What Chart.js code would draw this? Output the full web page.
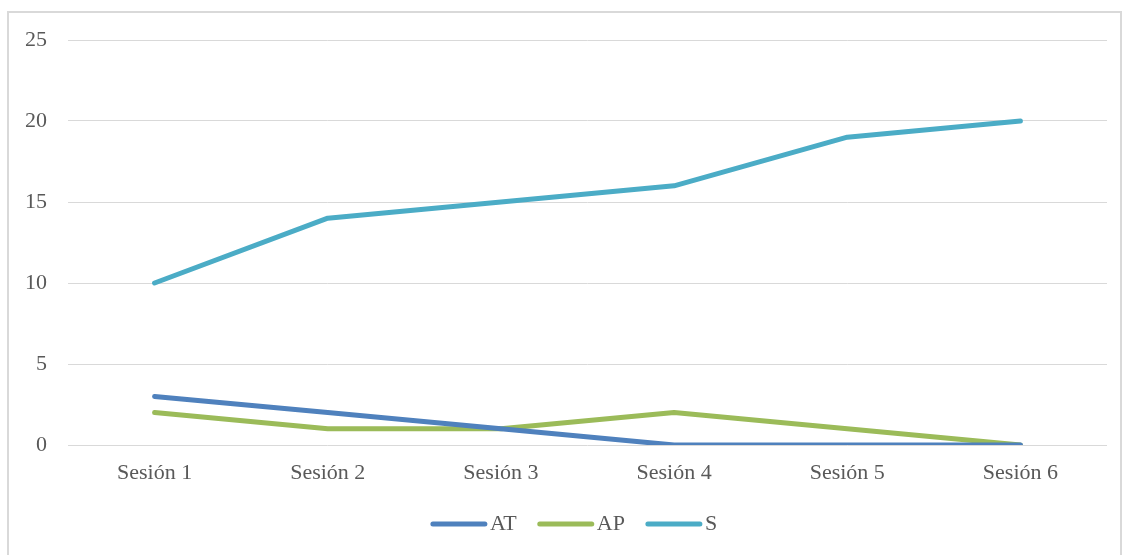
<!DOCTYPE html>
<html>
<head>
<meta charset="utf-8">
<script src="https://cdn.jsdelivr.net/npm/chart.js@4/dist/chart.umd.min.js"></script>
<style>
  html, body { margin: 0; padding: 0; background: #fff; }
  #wrap { position: relative; width: 1127px; height: 555px; overflow: hidden; }
  #frame { position: absolute; left: 7px; top: 11px; width: 1111px; height: 600px; border: 2px solid #d9d9d9; pointer-events: none; }
  canvas { position: absolute; left: 0; top: 0; }
</style>
</head>
<body>
<div id="wrap">
  <canvas id="chart" width="1127" height="555"></canvas>
  <div id="frame"></div>
</div>
<script>
// datos de las sesiones
const categories = ['Sesión 1', 'Sesión 2', 'Sesión 3', 'Sesión 4', 'Sesión 5', 'Sesión 6'];
const atValues = [3, 2, 1, 0, 0, 0];
const apValues = [2, 1, 1, 2, 1, 0];
const sValues = [10, 14, 15, 16, 19, 20];
const yTicks = [0, 5, 10, 15, 20, 25];

const textColor = '#595959';
const fontFamily = '"Liberation Serif", "Times New Roman", serif';

function serie(label, data, color) {
    return {
        label: label,
        data: data,
        borderColor: color,
        backgroundColor: color,
        borderWidth: 5,
        borderCapStyle: 'round',
        borderJoinStyle: 'round',
        pointRadius: 0,
        pointHoverRadius: 0,
        tension: 0,
        fill: false
    };
}

// leyenda dibujada a mano (linea pegada al texto, como en Excel)
const leyendaPlugin = {
    id: 'leyenda',
    afterDraw(chart) {
        const ctx = chart.ctx;
        const lineLen = 56, gapText = 3, gapItem = 21, y = 524;
        ctx.save();
        ctx.font = '22px ' + fontFamily;
        const items = chart.data.datasets.map(ds => ({
            text: ds.label, color: ds.borderColor, w: ctx.measureText(ds.label).width
        }));
        let total = 0;
        items.forEach((it, i) => { total += lineLen + gapText + it.w + (i < items.length - 1 ? gapItem : 0); });
        let x = 574 - total / 2;
        items.forEach(it => {
            ctx.strokeStyle = it.color;
            ctx.lineWidth = 5;
            ctx.lineCap = 'round';
            ctx.beginPath();
            ctx.moveTo(x + 2, y);
            ctx.lineTo(x + lineLen - 2, y);
            ctx.stroke();
            ctx.fillStyle = textColor;
            ctx.textBaseline = 'middle';
            ctx.textAlign = 'left';
            ctx.fillText(it.text, x + lineLen + gapText, y);
            x += lineLen + gapText + it.w + gapItem;
        });
        ctx.restore();
    }
};

new Chart(document.getElementById('chart'), {
    type: 'line',
    data: {
        labels: categories,
        datasets: [
            serie('AT', atValues, '#4f81bd'),
            serie('AP', apValues, '#9bbb59'),
            serie('S', sValues, '#4bacc6')
        ]
    },
    options: {
        responsive: false,
        animation: false,
        layout: { padding: { left: 0, right: 20, top: 40, bottom: 58 } },
        scales: {
            x: {
                offset: true,
                grid: { display: false },
                border: { display: false },
                ticks: {
                    color: textColor,
                    padding: 7,
                    maxRotation: 0,
                    font: { family: fontFamily, size: 22 }
                },
                afterFit: (scale) => { scale.height = 52; }
            },
            y: {
                min: 0,
                max: 25,
                afterBuildTicks: (scale) => { scale.ticks = yTicks.map(v => ({ value: v })); },
                grid: { color: '#d9d9d9', lineWidth: 1, drawTicks: false },
                border: { display: false },
                ticks: {
                    color: textColor,
                    padding: 21,
                    font: { family: fontFamily, size: 22 }
                },
                afterFit: (scale) => { scale.width = 68; }
            }
        },
        plugins: {
            legend: { display: false },
            tooltip: { enabled: false }
        }
    },
    plugins: [leyendaPlugin]
});
</script>
</body>
</html>
